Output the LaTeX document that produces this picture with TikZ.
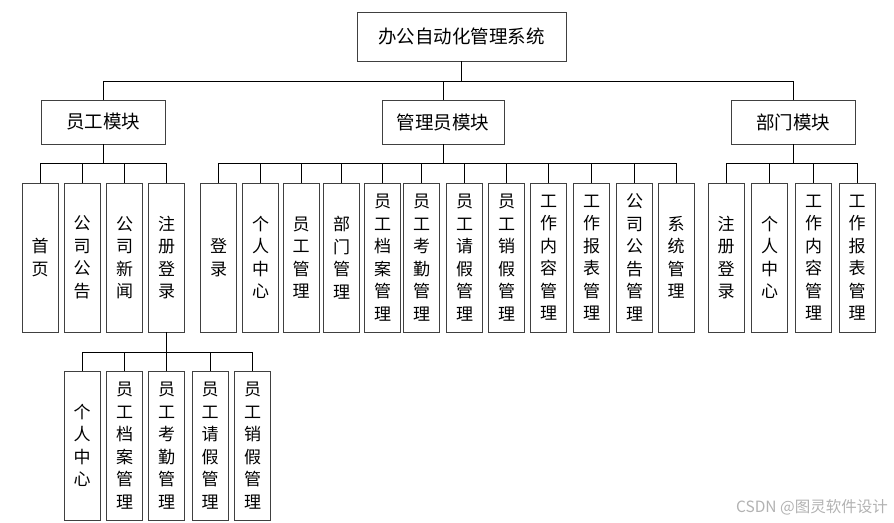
\documentclass[tikz,border=0pt]{standalone}
\usepackage{fontspec}
\setmainfont{Noto Sans CJK SC}
\newfontfamily\wmfont{Noto Sans CJK SC}
\begin{document}
\begin{tikzpicture}[x=1pt,y=-1pt,
  box/.style={draw=black!75, line width=0.8pt, inner sep=0pt, align=center, font=\fontsize{17}{22.5}\selectfont},
  vbox/.style={box, minimum width=36pt, minimum height=149pt},
  hbox/.style={box, minimum height=44pt, font=\fontsize{18.5}{22}\selectfont},
  conn/.style={draw=black, line width=0.8pt}]
\useasboundingbox (0,0) rectangle (894,522);
% root
\node[box, minimum width=209pt, minimum height=49pt, font=\fontsize{18.5}{22}\selectfont] (root) at (461.5,36.5) {办公自动化管理系统};
% level 2
\node[hbox, minimum width=124pt] (emp) at (103,122) {员工模块};
\node[hbox, minimum width=122pt] (adm) at (443,122) {管理员模块};
\node[hbox, minimum width=124pt] (dep) at (793,122) {部门模块};
% employee children
\node[vbox] (e1) at (40,257.5) {首\\页};
\node[vbox] (e2) at (82,257.5) {公\\司\\公\\告};
\node[vbox] (e3) at (124.5,257.5) {公\\司\\新\\闻};
\node[vbox] (e4) at (166.5,257.5) {注\\册\\登\\录};
% admin children
\node[vbox] (a1) at (218.5,257.5) {登\\录};
\node[vbox] (a2) at (260.5,257.5) {个\\人\\中\\心};
\node[vbox] (a3) at (301,257.5) {员\\工\\管\\理};
\node[vbox] (a4) at (341.5,257.5) {部\\门\\管\\理};
\node[vbox] (a5) at (382.5,257.5) {员\\工\\档\\案\\管\\理};
\node[vbox] (a6) at (421.5,257.5) {员\\工\\考\\勤\\管\\理};
\node[vbox] (a7) at (464.5,257.5) {员\\工\\请\\假\\管\\理};
\node[vbox] (a8) at (506.5,257.5) {员\\工\\销\\假\\管\\理};
\node[vbox] (a9) at (548.5,257.5) {工\\作\\内\\容\\管\\理};
\node[vbox] (a10) at (591.5,257.5) {工\\作\\报\\表\\管\\理};
\node[vbox] (a11) at (634.5,257.5) {公\\司\\公\\告\\管\\理};
\node[vbox] (a12) at (676,257.5) {系\\统\\管\\理};
% dept children
\node[vbox] (d1) at (726,257.5) {注\\册\\登\\录};
\node[vbox] (d2) at (769.5,257.5) {个\\人\\中\\心};
\node[vbox] (d3) at (813.5,257.5) {工\\作\\内\\容\\管\\理};
\node[vbox] (d4) at (857,257.5) {工\\作\\报\\表\\管\\理};
% level 4 under e4
\node[vbox] (f1) at (82,445.5) {个\\人\\中\\心};
\node[vbox] (f2) at (124.5,445.5) {员\\工\\档\\案\\管\\理};
\node[vbox] (f3) at (166.5,445.5) {员\\工\\考\\勤\\管\\理};
\node[vbox] (f4) at (210,445.5) {员\\工\\请\\假\\管\\理};
\node[vbox] (f5) at (252.5,445.5) {员\\工\\销\\假\\管\\理};
% connectors
\foreach \c in {emp,adm,dep} \draw[conn] (root.south) -- ++(0,20) -| (\c.north);
\foreach \c in {e1,e2,e3,e4} \draw[conn] (emp.south) -- ++(0,19) -| (\c.north);
\foreach \c in {a1,a2,a3,a4,a5,a6,a7,a8,a9,a10,a11,a12} \draw[conn] (adm.south) -- ++(0,19) -| (\c.north);
\foreach \c in {d1,d2,d3,d4} \draw[conn] (dep.south) -- ++(0,19) -| (\c.north);
\foreach \c in {f1,f2,f3,f4,f5} \draw[conn] (e4.south) -- ++(0,20) -| (\c.north);
% watermark
\node[anchor=east, text=black!30, inner sep=0pt, font=\wmfont\fontsize{15.5}{17}\selectfont] (wm) at (888,507) {CSDN @图灵软件设计};
\end{tikzpicture}
\end{document}
